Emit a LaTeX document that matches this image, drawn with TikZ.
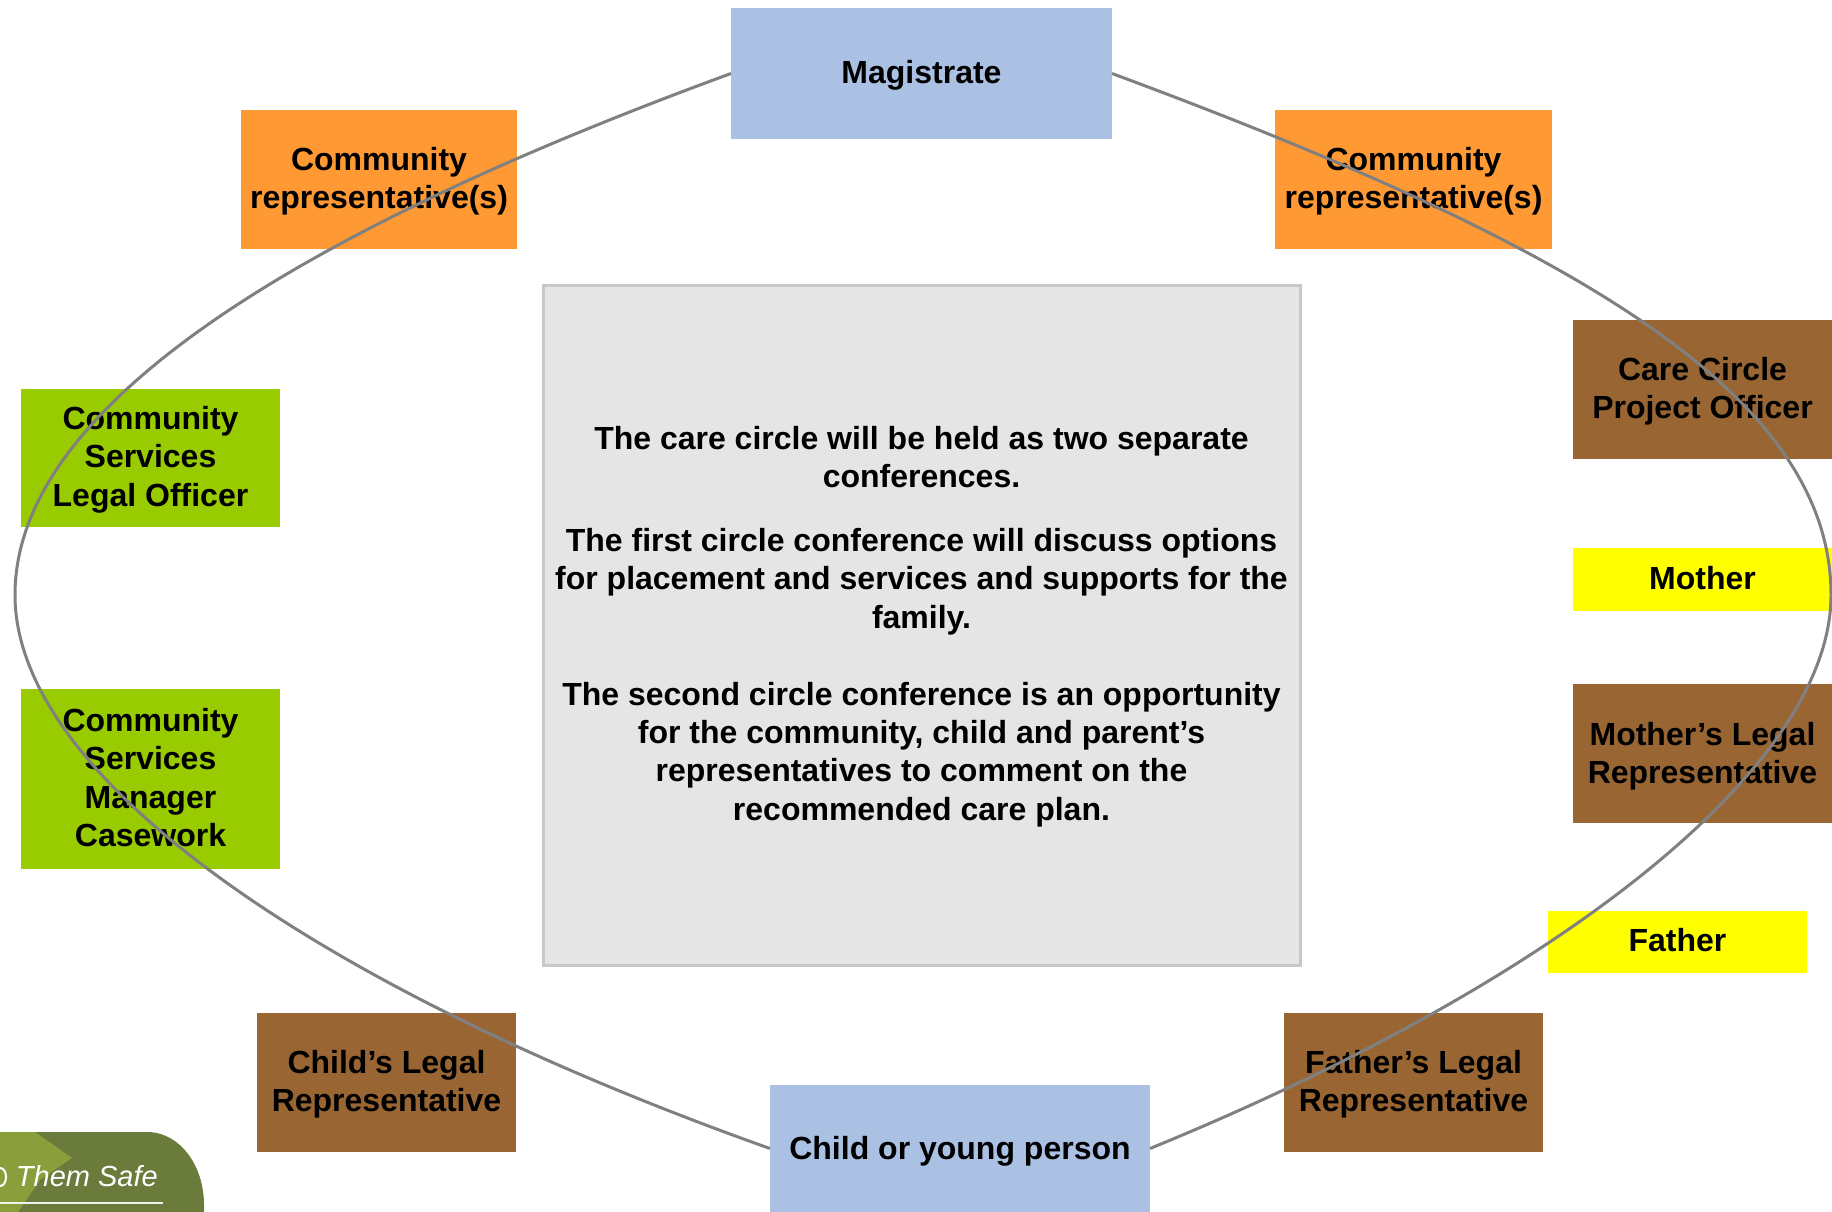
\documentclass[tikz,border=0pt]{standalone}
\usepackage{fontspec}
\setmainfont{Liberation Sans}
\begin{document}
\begin{tikzpicture}[x=1pt,y=-1pt,
  boxbase/.style={inner sep=0pt,outer sep=0pt,align=center,font=\bfseries\fontsize{32}{38.25}\selectfont,text=black,text depth=0pt},
  tall/.style={text height=#1},
  bluebox/.style={boxbase,fill=boxblue},
  orangebox/.style={boxbase,fill=boxorange},
  greenbox/.style={boxbase,fill=boxgreen},
  brownbox/.style={boxbase,fill=boxbrown},
  yellowbox/.style={boxbase,fill=boxyellow},
  infobox/.style={boxbase,fill=infogrey,draw=infoedge,line width=3pt},
  ring/.style={draw=ringgrey,line width=3pt}]
\definecolor{boxblue}{HTML}{ABC1E3}
\definecolor{boxorange}{HTML}{FF9933}
\definecolor{boxgreen}{HTML}{99CC00}
\definecolor{boxbrown}{HTML}{996633}
\definecolor{boxyellow}{HTML}{FFFF00}
\definecolor{infogrey}{HTML}{E5E5E5}
\definecolor{infoedge}{HTML}{C8C8C8}
\definecolor{ringgrey}{HTML}{808080}
\definecolor{logodark}{HTML}{6B7B3C}
\definecolor{logolight}{HTML}{8B9E3C}
\useasboundingbox (0,0) rectangle (1832,1212);
\fill[white] (0,0) rectangle (1832,1212);
% logo
\begin{scope}
\clip (0,0) rectangle (1832,1212);
\fill[logodark] (0,1132) -- (150,1132) .. controls (180,1134) and (204,1165) .. (204,1205) -- (204,1212) -- (0,1212) -- cycle;
\fill[logolight] (0,1132) -- (35,1132) -- (72,1158) -- (40,1180) -- (18,1212) -- (0,1212) -- cycle;
\node[anchor=base east,inner sep=0pt,text=white,font=\itshape\fontsize{29}{32}\selectfont] (logotext) at (158,1186) {Them Safe};
\draw[white,line width=2pt] (0,1168) .. controls (8,1168) and (8,1186) .. (0,1186);
\draw[white!90!logodark,line width=2pt] (0,1203) -- (163,1203);
\end{scope}
\node[bluebox,tall=19.5pt,minimum width=381pt,minimum height=131pt] (mag) at (921.5,73.5) {Magistrate};
\node[orangebox,tall=58pt,minimum width=276pt,minimum height=139pt] (crl) at (379,179.5) {Community\\representative(s)};
\node[orangebox,tall=58pt,minimum width=277pt,minimum height=139pt] (crr) at (1413.5,179.5) {Community\\representative(s)};
\node[greenbox,tall=96pt,minimum width=259pt,minimum height=138pt] (cslo) at (150.5,458) {Community\\Services\\Legal Officer};
\node[greenbox,tall=134.5pt,minimum width=259pt,minimum height=180pt] (csmc) at (150.5,779) {Community\\Services\\Manager\\Casework};
\node[brownbox,tall=58pt,minimum width=259pt,minimum height=139pt] (cl) at (386.5,1082.5) {Child’s Legal\\Representative};
\node[brownbox,tall=58pt,minimum width=259pt,minimum height=139pt] (fl) at (1413.5,1082.5) {Father’s Legal\\Representative};
\node[bluebox,tall=22pt,minimum width=380pt,minimum height=127pt] (child) at (960,1148.5) {Child or young person};
\node[brownbox,tall=57.5pt,minimum width=259pt,minimum height=139pt] (cc) at (1702.5,389.5) {Care Circle\\Project Officer};
\node[yellowbox,tall=19pt,minimum width=259pt,minimum height=63pt] (mother) at (1702.5,579.5) {Mother};
\node[brownbox,tall=59.5pt,minimum width=259pt,minimum height=139pt] (ml) at (1702.5,753.5) {Mother’s Legal\\Representative};
\node[yellowbox,tall=19.5pt,minimum width=259pt,minimum height=62pt] (father) at (1677.5,942) {Father};
\node[infobox,tall=390pt,minimum width=757pt,minimum height=680pt] (info) at (921.5,625) {The care circle will be held as two separate\\conferences.\\[26pt]The first circle conference will discuss options\\for placement and services and supports for the\\family.\\[38.8pt]The second circle conference is an opportunity\\for the community, child and parent’s\\representatives to comment on the\\recommended care plan.};
\coordinate (ringleft) at (15,595);
\coordinate (ringright) at (1831,595);
\draw[ring] (mag.west) .. controls (331,220) and (15,395) .. (ringleft) .. controls (15,775) and (310,985) .. (child.west);
\draw[ring] (mag.east) .. controls (1575,245) and (1831,395) .. (ringright) .. controls (1831,770) and (1550,985) .. (child.east);
\end{tikzpicture}
\end{document}
